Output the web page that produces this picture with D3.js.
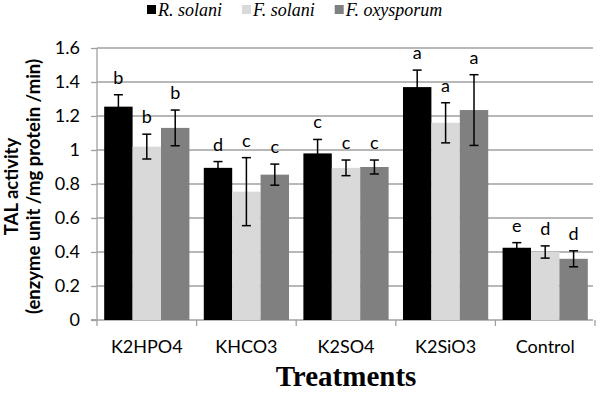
<!DOCTYPE html>
<html><head><meta charset="utf-8">
<script src="https://cdn.jsdelivr.net/npm/d3@7"></script>
<style>body{margin:0;background:#fff}svg{display:block}</style>
</head><body>
<svg id="c" width="600" height="393"></svg>
<script>
const categories = ["K2HPO4","KHCO3","K2SO4","K2SiO3","Control"];
const seriesNames = ["R. solani","F. solani","F. oxysporum"];
const rSolani     = [1.255, 0.895, 0.98, 1.37, 0.425];
const fSolani     = [1.02, 0.755, 0.895, 1.16, 0.40];
const fOxysporum  = [1.13, 0.855, 0.90, 1.235, 0.36];
const rSolaniErr    = [0.07, 0.037, 0.082, 0.10, 0.03];
const fSolaniErr    = [0.073, 0.20, 0.046, 0.118, 0.036];
const fOxysporumErr = [0.105, 0.062, 0.041, 0.208, 0.047];
const rSolaniLetters    = ["b","d","c","a","e"];
const fSolaniLetters    = ["b","c","c","a","d"];
const fOxysporumLetters = ["b","c","c","a","d"];
const yTicks = [0,0.2,0.4,0.6,0.8,1,1.2,1.4,1.6];
const colors = ["#000000","#d9d9d9","#808080"];

const series = [
  {name:seriesNames[0], values:rSolani, err:rSolaniErr, letters:rSolaniLetters},
  {name:seriesNames[1], values:fSolani, err:fSolaniErr, letters:fSolaniLetters},
  {name:seriesNames[2], values:fOxysporum, err:fOxysporumErr, letters:fOxysporumLetters}
];

const svg = d3.select("#c");
const L=97, R=595, T=48, B=320;
const x = d3.scaleBand().domain(categories).range([L,R]).paddingInner(0).paddingOuter(0);
const inner = d3.scaleBand().domain(d3.range(series.length)).range([0,x.bandwidth()]).paddingOuter(0.253).paddingInner(0);
const y = d3.scaleLinear().domain([0,1.6]).range([B,T]);
const sans = "Lato, 'Open Sans', sans-serif";

// gridlines
svg.append("g").selectAll("line").data(yTicks.filter(d=>d>0)).join("line")
  .attr("x1",L).attr("x2",593).attr("y1",d=>y(d)).attr("y2",d=>y(d))
  .attr("stroke","#a0a0a0").attr("stroke-width",1.3);

// y axis
const yAxis = svg.append("g").attr("transform",`translate(${L},0)`)
  .call(d3.axisLeft(y).tickValues(yTicks).tickSize(6).tickPadding(11).tickFormat(d=>d3.format("")(+d.toFixed(1))));
yAxis.select(".domain").attr("stroke","#a0a0a0").attr("stroke-width",1.3).attr("d",`M-6,${B}H0V${T}`);
yAxis.selectAll(".tick line").attr("stroke","#a0a0a0").attr("stroke-width",1.3);
yAxis.selectAll(".tick text").attr("font-family",sans).attr("font-size",18).attr("fill","#000");

// x axis
const xAxis = svg.append("g").attr("transform",`translate(0,${B})`)
  .call(d3.axisBottom(x).tickSize(0).tickPadding(20));
xAxis.select(".domain").attr("stroke","#a0a0a0").attr("stroke-width",1.3).attr("d",`M${L-6},0H${R-2}`);
xAxis.selectAll(".tick text").attr("font-family",sans).attr("font-size",18).attr("fill","#000");
const bounds = categories.map(c=>x(c)).concat([R]);
svg.append("g").selectAll("line").data(bounds).join("line")
  .attr("x1",d=>d).attr("x2",d=>d).attr("y1",B).attr("y2",B+6)
  .attr("stroke","#a0a0a0").attr("stroke-width",1.3);

// bars
series.forEach((s,i)=>{
  const g = svg.append("g");
  g.selectAll("rect").data(categories).join("rect")
    .attr("x",c=>x(c)+inner(i)).attr("width",inner.bandwidth())
    .attr("y",(c,j)=>y(s.values[j])).attr("height",(c,j)=>B-y(s.values[j]))
    .attr("fill",colors[i]);
});
// error bars and letters
series.forEach((s,i)=>{
  const g = svg.append("g").attr("stroke","#000").attr("stroke-width",1.5);
  categories.forEach((c,j)=>{
    const cx = x(c)+inner(i)+inner.bandwidth()/2;
    const hi = y(s.values[j]+s.err[j]), lo = y(s.values[j]-s.err[j]);
    g.append("line").attr("x1",cx).attr("x2",cx).attr("y1",hi).attr("y2",lo);
    g.append("line").attr("x1",cx-4.5).attr("x2",cx+4.5).attr("y1",hi).attr("y2",hi);
    g.append("line").attr("x1",cx-4.5).attr("x2",cx+4.5).attr("y1",lo).attr("y2",lo);
    svg.append("text").attr("x",cx).attr("y",hi-11).attr("text-anchor","middle")
      .attr("font-family",sans).attr("font-size",18).attr("fill","#000").text(s.letters[j]);
  });
});

// y title
const yt = svg.append("text").attr("transform","translate(17.5,186.5) rotate(-90)")
  .attr("text-anchor","middle").attr("font-family",sans).attr("font-weight","bold").attr("font-size",18.5).attr("fill","#000");
yt.append("tspan").attr("x",0).attr("y",0).text("TAL activity");
yt.append("tspan").attr("x",0).attr("y",22).text("(enzyme unit /mg protein /min)");

// x title
svg.append("text").attr("x",346).attr("y",386).attr("text-anchor","middle")
  .attr("font-family","'Liberation Serif','Times New Roman',serif").attr("font-weight","bold").attr("font-size",29).text("Treatments");

// legend
const lg = svg.append("g");
let lx = 147;
series.forEach((s,i)=>{
  lg.append("rect").attr("x",lx).attr("y",5).attr("width",9).attr("height",9).attr("fill",colors[i]);
  const t = lg.append("text").attr("x",lx+11).attr("y",15.5)
    .attr("font-family","'Liberation Serif','Times New Roman',serif").attr("font-style","italic").attr("font-size",18).text(s.name);
  lx += 11 + t.node().getComputedTextLength() + 20;
});
</script>
</body></html>
